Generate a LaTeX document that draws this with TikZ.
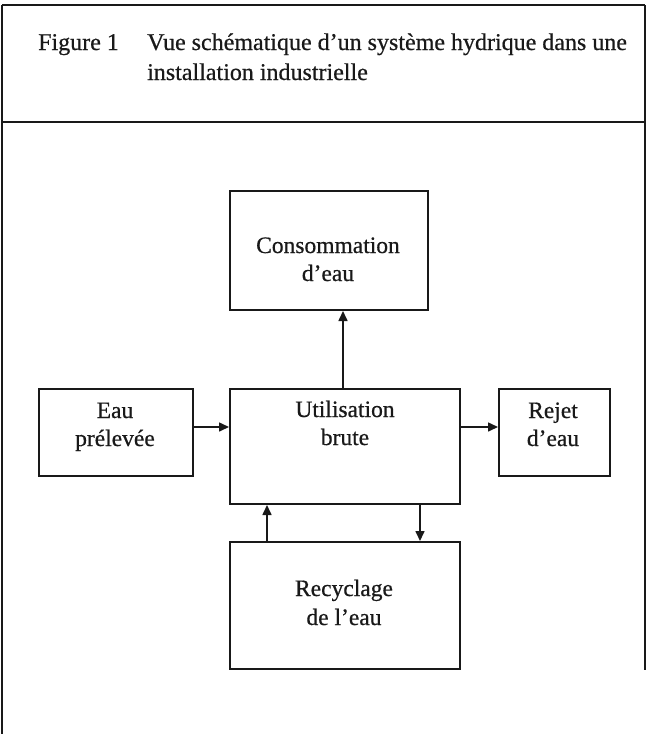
\documentclass[tikz,border=0pt]{standalone}
\usepackage{fontspec}
\setmainfont{Liberation Serif}
\newfontfamily\scanfont[FakeBold=0.6]{Liberation Serif}
\usetikzlibrary{arrows.meta}
\begin{document}
\begin{tikzpicture}[x=1pt,y=-1pt,
  boxst/.style={draw=black!90,line width=2pt,rectangle,inner sep=0pt,anchor=north west},
  lbl/.style={font=\scanfont\fontsize{23.5}{28}\selectfont,text=black!90,inner sep=0pt,anchor=base},
  ttl/.style={font=\scanfont\fontsize{24}{28}\selectfont,text=black!90,inner sep=0pt,anchor=base west},
  arr/.style={draw=black!90,line width=1.6pt,-{Triangle[length=10pt,width=9pt]}},
  frame/.style={line width=2pt,draw=black!90}]
\useasboundingbox (0,0) rectangle (647,734);
% frame
\draw[frame,line width=2.8pt] (2,5) -- (2,734);
\draw[frame] (2,5) -- (645,5);
\draw[frame,line width=1.4pt] (645,5) -- (645,670);
\draw[frame] (2,122) -- (645,122);
% title
\node[ttl] (fig) at (38,50) {Figure 1};
\node[ttl] (t1) at (147,50) {Vue schématique d’un système hydrique dans une};
\node[ttl] (t2) at (147,80) {installation industrielle};
% boxes
\node[boxst,minimum width=198pt,minimum height=119pt] (cons) at (229,190) {};
\node[boxst,minimum width=154pt,minimum height=87pt] (eau) at (38,388) {};
\node[boxst,minimum width=230pt,minimum height=115pt] (util) at (229,388) {};
\node[boxst,minimum width=111pt,minimum height=87pt] (rej) at (498,388) {};
\node[boxst,minimum width=230pt,minimum height=127pt] (rec) at (229,541) {};
% labels
\node[lbl] (c1) at (328,253) {Consommation};
\node[lbl] (c2) at (328,281) {d’eau};
\node[lbl] (e1) at (115,418) {Eau};
\node[lbl] (e2) at (115,446) {prélevée};
\node[lbl] (u1) at (345,417) {Utilisation};
\node[lbl] (u2) at (345,445) {brute};
\node[lbl] (r1) at (553,418) {Rejet};
\node[lbl] (r2) at (553,446) {d’eau};
\node[lbl] (y1) at (344,596) {Recyclage};
\node[lbl] (y2) at (344,625) {de l’eau};
% connector guides
\coordinate (h1) at (0,427);
\coordinate (v1) at (343,0);
\coordinate (v2) at (267,0);
\coordinate (v3) at (420,0);
% connectors
\draw[arr] (eau.east |- h1) -- (util.west |- h1);
\draw[arr] (util.east |- h1) -- (rej.west |- h1);
\draw[arr] (util.north -| v1) -- (cons.south -| v1);
\draw[arr] (rec.north -| v2) -- (util.south -| v2);
\draw[arr] (util.south -| v3) -- (rec.north -| v3);
\end{tikzpicture}
\end{document}
